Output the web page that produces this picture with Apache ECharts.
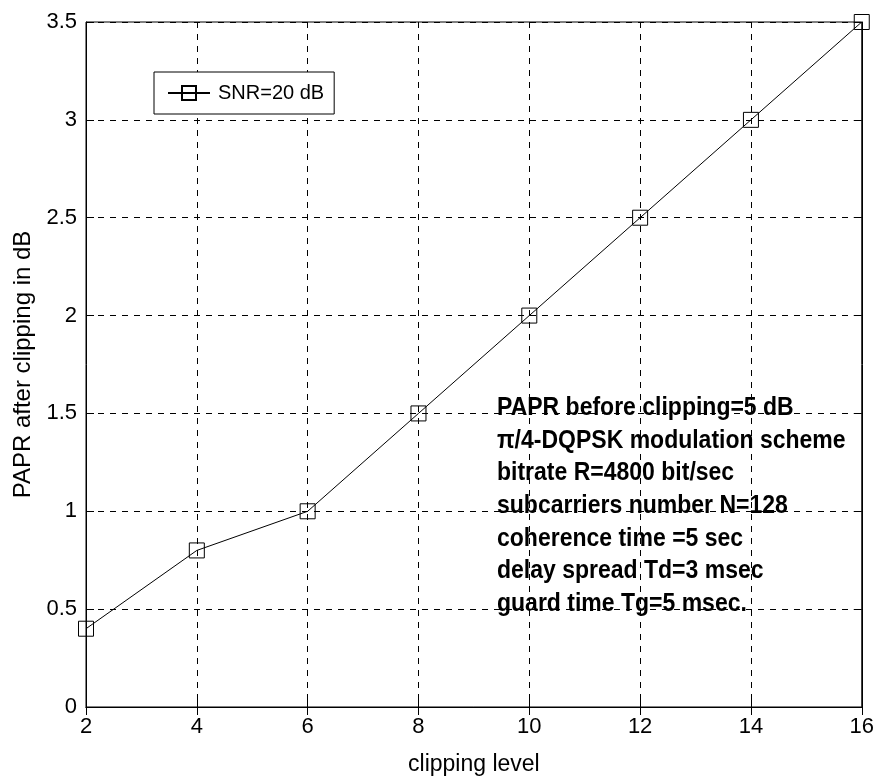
<!DOCTYPE html>
<html>
<head>
<meta charset="utf-8">
<title>PAPR after clipping</title>
<script src="https://cdn.jsdelivr.net/npm/echarts@6/dist/echarts.min.js"></script>
<style>
  html, body { margin: 0; padding: 0; background: #fff; }
  #chart { width: 877px; height: 782px; }
</style>
</head>
<body>
<div id="chart"></div>
<script>
// Clipping level on the x axis, PAPR after clipping (dB) on the y axis
const clippingLevel = [2, 4, 6, 8, 10, 12, 14, 16];
const paprAfter = [0.4, 0.8, 1.0, 1.5, 2.0, 2.5, 3.0, 3.5];
const seriesName = 'SNR=20 dB';
const xTitle = 'clipping level';
const yTitle = 'PAPR after clipping in dB';
const notes = [
  'PAPR before clipping=5 dB',
  'π/4-DQPSK modulation scheme',
  'bitrate R=4800 bit/sec',
  'subcarriers number N=128',
  'coherence time =5 sec',
  'delay spread Td=3 msec',
  'guard time Tg=5 msec.'
];

const FONT = 'Liberation Sans, Arial, Helvetica, sans-serif';
const chart = echarts.init(document.getElementById('chart'), null, { renderer: 'canvas' });

const gridDash = { color: '#000', width: 1, type: [6, 6] };

const baseAxis = {
  axisLine: { show: true, lineStyle: { color: '#000', width: 1 } },
  axisTick: { show: true, inside: true, length: 8, lineStyle: { color: '#000', width: 1 } },
  splitLine: { show: true, lineStyle: gridDash }
};

// Mirror axes on the top and right: frame with inward ticks, no labels
const mirrorAxis = (pos) => ({
  type: 'value', position: pos,
  axisLine: { show: true, lineStyle: { color: '#000' } },
  axisTick: { show: true, inside: true, length: 8, lineStyle: { color: '#000' } },
  axisLabel: { show: false }, splitLine: { show: false }
});

chart.setOption({
  animation: false,
  backgroundColor: '#fff',
  grid: { left: 86, right: 14, top: 22, bottom: 75, containLabel: false,
          show: true, borderColor: '#000', borderWidth: 1 },
  legend: {
    left: 154, top: 72,
    orient: 'horizontal',
    backgroundColor: '#fff',
    borderColor: '#000', borderWidth: 1, borderRadius: 0,
    padding: [11, 10, 11, 13],
    itemWidth: 42, itemHeight: 17.5,
    textStyle: { fontSize: 20, color: '#000', fontFamily: FONT, padding: [0, 0, 0, 3] },
    data: [seriesName]
  },
  xAxis: [
    Object.assign({}, baseAxis, {
      type: 'value', min: 2, max: 16, interval: 2,
      name: xTitle, nameLocation: 'middle', nameGap: 46,
      nameTextStyle: { fontSize: 23, color: '#000', fontFamily: FONT },
      axisLabel: { fontSize: 22, color: '#000', fontFamily: FONT, margin: 9 }
    }),
    Object.assign(mirrorAxis('top'), { min: 2, max: 16, interval: 2 })
  ],
  yAxis: [
    Object.assign({}, baseAxis, {
      type: 'value', min: 0, max: 3.5, interval: 0.5,
      name: yTitle, nameLocation: 'middle', nameGap: 51,
      nameTextStyle: { fontSize: 24, color: '#000', fontFamily: FONT },
      axisLabel: { fontSize: 22, color: '#000', fontFamily: FONT, margin: 9 }
    }),
    Object.assign(mirrorAxis('right'), { min: 0, max: 3.5, interval: 0.5 })
  ],
  series: [{
    name: seriesName,
    type: 'line',
    xAxisIndex: 0, yAxisIndex: 0,
    data: clippingLevel.map((x, i) => [x, paprAfter[i]]),
    symbol: 'rect',
    symbolSize: 15,
    showAllSymbol: true,
    lineStyle: { color: '#000', width: 1 },
    itemStyle: { color: 'rgba(0,0,0,0)', borderColor: '#000', borderWidth: 1 },
    emphasis: { disabled: true },
    z: 5
  }],
  graphic: [{
    type: 'text',
    x: 497, y: 392,
    scaleX: 0.92,
    z: 10,
    style: {
      x: 0, y: 0,
      text: notes.join('\n'),
      font: 'bold 25px ' + FONT,
      lineHeight: 32.6,
      verticalAlign: 'top',
      fill: '#000'
    }
  }]
});
</script>
</body>
</html>
